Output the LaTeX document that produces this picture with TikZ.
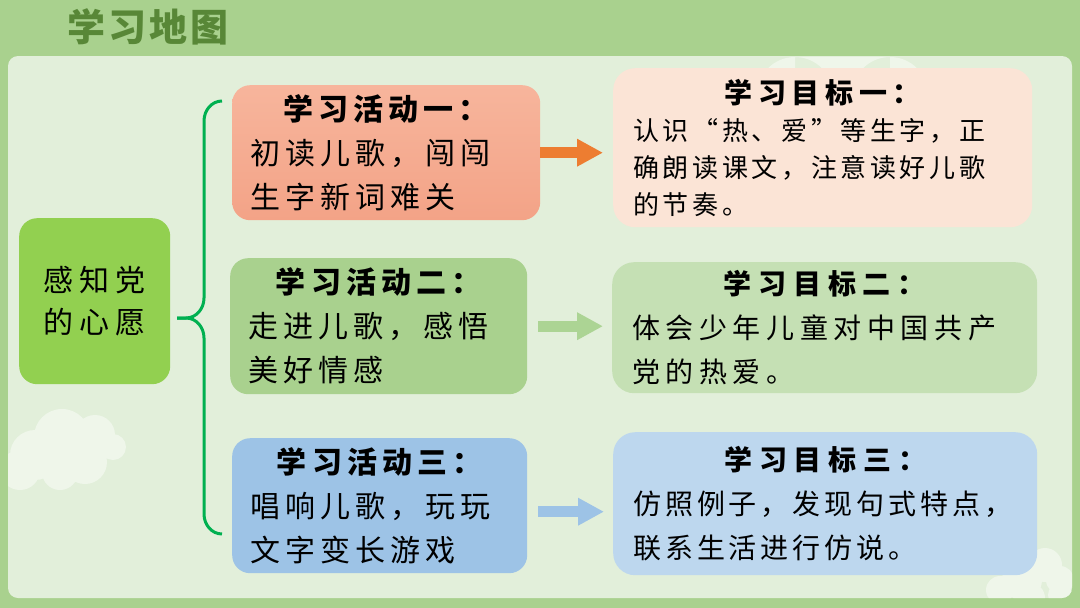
\documentclass[tikz,border=0pt]{standalone}
\usepackage{fontspec}
\setmainfont{Noto Sans CJK SC}
\usepackage{xcolor}
\usetikzlibrary{arrows.meta, positioning, calc}

\definecolor{bggreen}{RGB}{169,209,142}
\definecolor{panel}{RGB}{226,239,218}
\definecolor{titlegreen}{RGB}{88,135,55}
\definecolor{leaf}{RGB}{146,208,80}
\definecolor{bracegreen}{RGB}{0,176,80}
\definecolor{acttop}{RGB}{247,181,156}
\definecolor{actbot}{RGB}{243,163,135}
\definecolor{arrowone}{RGB}{237,125,49}
\definecolor{goalone}{RGB}{251,228,214}
\definecolor{acttwo}{RGB}{169,209,142}
\definecolor{arrowtwo}{RGB}{172,212,148}
\definecolor{goaltwo}{RGB}{197,224,180}
\definecolor{actthree}{RGB}{157,195,230}
\definecolor{arrowthree}{RGB}{157,195,230}
\definecolor{goalthree}{RGB}{189,215,238}

\newcommand{\headline}[1]{\hspace*{\fill}{\bfseries #1}\hspace*{\fill}\null\\}

\begin{document}
\begin{tikzpicture}[
    x=1pt, y=-1pt,
    box/.style={anchor=north west, rounded corners=18pt, align=left,
                inner xsep=18pt, inner ysep=0pt},
    act/.style={box, minimum height=135pt,
                font=\fontsize{30}{44}\selectfont\addfontfeatures{LetterSpace=17}},
    goal/.style={box, rounded corners=22pt, inner xsep=20pt},
    flow/.style={line width=11pt, -{Triangle[length=26pt, width=26pt]}},
    brace/.style={draw=bracegreen, line width=3pt},
    cloud/.style={fill=white, fill opacity=0.45}
  ]
  % background and panel
  \fill[bggreen] (0,0) rectangle (1080,608);
  \fill[panel, rounded corners=10pt] (8,56) rectangle (1072,598);
  \begin{scope}
    \clip[rounded corners=10pt] (8,56) rectangle (1072,598);
    \fill[cloud] (35,455) circle (25) (62,437) circle (28) (95,435) circle (20)
      (113,447) circle (13) (60,472) circle (18) (85,462) circle (22)
      (20,470) circle (20);
    \fill[cloud] (795,95) circle (38) (890,95) circle (38)
      (795,57) rectangle (890,110);
    \fill[cloud] (1000,590) circle (14) (1022,580) circle (20)
      (1045,565) circle (17) (1060,580) circle (14) (1060,595) circle (12)
      (1030,598) circle (15);
  \end{scope}

  \node[font=\fontsize{38}{44}\selectfont\bfseries\addfontfeatures{LetterSpace=8},
        text=titlegreen] (title) at (148,27) {学习地图};

  % centre node
  \node[anchor=north west, fill=leaf, rounded corners=18pt, minimum width=151pt,
        minimum height=166pt, align=center,
        font=\fontsize{30}{42}\selectfont\addfontfeatures{LetterSpace=21}]
        (root) at (19,218) {感知党\\的心愿};

  % activities
  \node[act, text width=272pt, top color=acttop, bottom color=actbot] (act1) at (232,85)
    {\headline{学习活动一：}初读儿歌，闯闯\\生字新词难关};
  \node[act, text width=261pt, fill=acttwo, minimum height=136pt] (act2) at (230,258)
    {\headline{学习活动二：}走进儿歌，感悟\\美好情感};
  \node[act, text width=259pt, fill=actthree] (act3) at (232,438)
    {\headline{学习活动三：}唱响儿歌，玩玩\\文字变长游戏};

  % goals
  \node[goal, fill=goalone, text width=379pt, minimum height=159pt,
        font=\fontsize{26}{37}\selectfont\addfontfeatures{LetterSpace=14}] (goal1) at (613,68)
    {{\fontsize{28}{38}\selectfont\addfontfeatures{LetterSpace=20}\headline{学习目标一：}}%
     认识“热、爱”等生字，正\\确朗读课文，注意读好儿歌\\的节奏。};
  \node[goal, fill=goaltwo, text width=385pt, minimum height=131pt,
        font=\fontsize{28}{44}\selectfont\addfontfeatures{LetterSpace=20}] (goal2) at (612,262)
    {{\addfontfeatures{LetterSpace=24}\headline{学习目标二：}}%
     体会少年儿童对中国共产\\党的热爱。};
  \node[goal, fill=goalthree, text width=384pt, minimum height=143pt,
        font=\fontsize{28}{44}\selectfont\addfontfeatures{LetterSpace=14}] (goal3) at (613,432)
    {{\addfontfeatures{LetterSpace=24}\headline{学习目标三：}}%
     仿照例子，发现句式特点，\\联系生活进行仿说。};

  % brace
  \coordinate (tip) at (177,318);
  \draw[brace] (222,101) to[out=180,in=90] (204,121) -- (204,298)
    to[out=-90,in=0] (186,318) -- (tip);
  \draw[brace] (tip) -- (186,318) to[out=0,in=90] (204,338) -- (204,514)
    to[out=-90,in=180] (222,534);

  % arrows
  \draw[flow, arrowone, shorten >=10pt] (act1.east) -- (act1.east -| goal1.west);
  \draw[flow, arrowtwo, shorten <=11pt, shorten >=9pt] (act2.east) -- (act2.east -| goal2.west);
  \draw[flow, arrowthree, shorten <=11pt, shorten >=9pt]
    ([yshift=-6pt]act3.east) -- ([yshift=-6pt]act3.east -| goal3.west);
\end{tikzpicture}
\end{document}
